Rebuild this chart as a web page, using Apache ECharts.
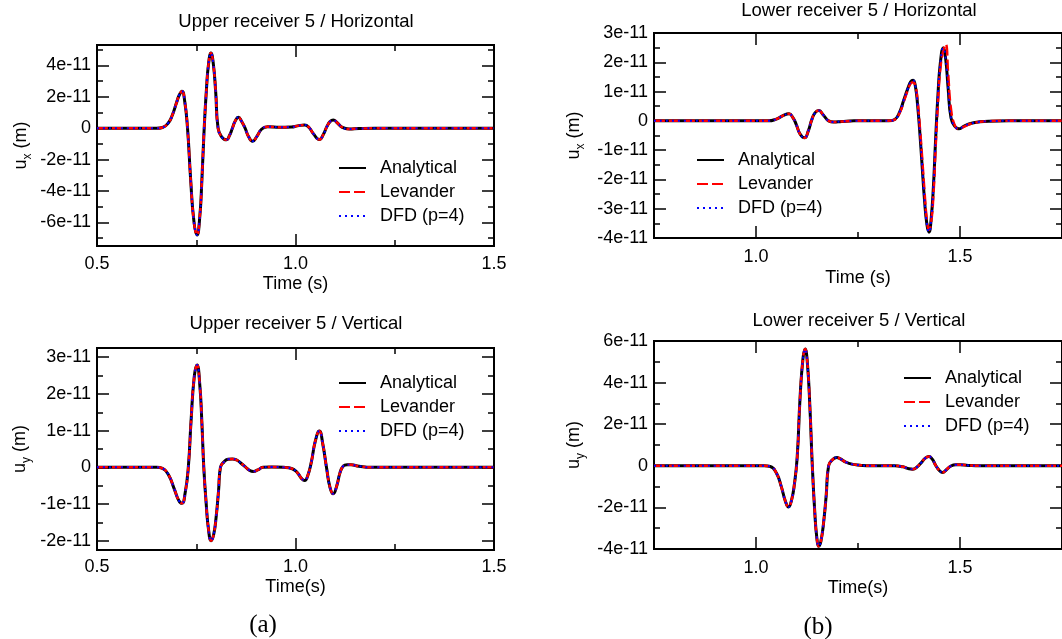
<!DOCTYPE html>
<html>
<head>
<meta charset="utf-8">
<script src="https://cdn.jsdelivr.net/npm/echarts@6/dist/echarts.min.js"></script>
<style>
html, body { margin: 0; padding: 0; background: #ffffff; }
#chart { width: 1062px; height: 639px; }
</style>
</head>
<body>
<div id="chart"></div>
<script>
// Displacement traces recorded at receiver 5; amplitudes are in units of 1e-11 m.
const AMP_UNIT = 1e-11;

// Upper receiver 5, horizontal component
const timeUpperH = [0.50, 0.60, 0.65, 0.665, 0.68, 0.69, 0.70, 0.707, 0.714, 0.721,
  0.728, 0.736, 0.744, 0.752, 0.759, 0.764, 0.770, 0.776, 0.781, 0.787,
  0.793, 0.799, 0.805, 0.814, 0.826, 0.834, 0.841, 0.848, 0.856, 0.864,
  0.873, 0.882, 0.892, 0.902, 0.915, 0.93, 0.96, 0.99, 1.005, 1.023,
  1.034, 1.045, 1.06, 1.071, 1.079, 1.087, 1.095, 1.105, 1.118, 1.135,
  1.16, 1.20, 1.30, 1.50];
const ampUpperH = [0, 0, 0, 0.05, 0.35, 0.85, 1.6, 2.1, 2.36, 1.7,
  0.0, -3.3, -5.9, -6.8, -5.6, -3.4, 0.0, 2.6, 4.1, 4.79,
  4.1, 2.3, 0.0, -0.55, -0.74, -0.45, 0.0, 0.45, 0.70, 0.45,
  0.0, -0.55, -0.83, -0.55, -0.05, 0.1, 0.06, 0.08, 0.15, 0.21,
  0.05, -0.35, -0.72, -0.35, 0.1, 0.42, 0.53, 0.35, 0.05, -0.05,
  -0.02, 0, 0, 0];

// Upper receiver 5, vertical component
const timeUpperV = [0.50, 0.60, 0.65, 0.665, 0.68, 0.695, 0.706, 0.714, 0.722, 0.730,
  0.737, 0.745, 0.752, 0.759, 0.764, 0.769, 0.775, 0.781, 0.7875, 0.794,
  0.800, 0.806, 0.811, 0.820, 0.830, 0.841, 0.852, 0.862, 0.875, 0.884,
  0.894, 0.905, 0.918, 0.94, 0.97, 0.99, 1.005, 1.015, 1.023, 1.031,
  1.040, 1.050, 1.060, 1.069, 1.078, 1.087, 1.095, 1.104, 1.112, 1.120,
  1.130, 1.140, 1.160, 1.190, 1.30, 1.50];
const ampUpperV = [0, 0, 0, -0.03, -0.2, -0.6, -0.9, -0.98, -0.7, 0.0,
  1.28, 2.47, 2.79, 2.23, 1.26, 0.0, -0.98, -1.7, -2.0, -1.82,
  -1.36, -0.66, 0.0, 0.15, 0.22, 0.23, 0.2, 0.12, 0.0, -0.08,
  -0.11, -0.07, 0.0, 0.01, 0.0, -0.03, -0.15, -0.3, -0.36, -0.22,
  0.15, 0.72, 0.99, 0.62, 0.0, -0.55, -0.72, -0.5, -0.15, 0.03,
  0.07, 0.07, 0.03, 0.0, 0, 0];

// Lower receiver 5, horizontal component
const timeLowerH = [0.75, 0.90, 1.00, 1.03, 1.05, 1.065, 1.081, 1.090, 1.098, 1.108,
  1.119, 1.128, 1.137, 1.145, 1.154, 1.165, 1.178, 1.190, 1.21, 1.24,
  1.30, 1.325, 1.340, 1.352, 1.362, 1.372, 1.379, 1.385, 1.391, 1.396,
  1.401, 1.407, 1.413, 1.419, 1.424, 1.429, 1.435, 1.440, 1.446, 1.452,
  1.459, 1.465, 1.471, 1.478, 1.488, 1.497, 1.51, 1.526, 1.545, 1.57,
  1.62, 1.75];
const ampLowerH = [0, 0, 0, 0, 0.06, 0.17, 0.24, 0.12, -0.1, -0.45,
  -0.58, -0.35, 0.05, 0.28, 0.35, 0.2, 0.0, -0.04, -0.02, 0,
  0, 0.0, 0.05, 0.3, 0.7, 1.1, 1.33, 1.39, 1.15, 0.55,
  -0.3, -1.5, -2.7, -3.55, -3.8, -3.4, -2.2, -0.7, 0.9, 2.0,
  2.49, 2.1, 1.1, 0.1, -0.2, -0.27, -0.18, -0.09, -0.04, -0.01,
  0, 0];
const ampLowerHLevander = [0, 0, 0, 0, 0.06, 0.17, 0.24, 0.12, -0.1, -0.45,
  -0.58, -0.35, 0.05, 0.28, 0.35, 0.2, 0.0, -0.04, -0.02, 0,
  0, 0.0, 0.04, 0.27, 0.65, 1.05, 1.27, 1.32, 1.18, 0.7,
  -0.1, -1.2, -2.4, -3.4, -3.72, -3.5, -2.5, -1.0, 0.6, 1.8,
  2.4, 2.62, 1.6, 0.4, -0.18, -0.28, -0.2, -0.1, -0.04, -0.01,
  0, 0];

// Lower receiver 5, vertical component
const timeLowerV = [0.75, 0.95, 1.02, 1.035, 1.05, 1.062, 1.072, 1.0797, 1.087, 1.094,
  1.101, 1.108, 1.115, 1.1204, 1.126, 1.132, 1.138, 1.144, 1.149, 1.1537,
  1.159, 1.166, 1.172, 1.178, 1.188, 1.198, 1.207, 1.220, 1.235, 1.255,
  1.28, 1.34, 1.36, 1.375, 1.3845, 1.395, 1.405, 1.415, 1.4236, 1.432,
  1.441, 1.450, 1.4576, 1.466, 1.477, 1.49, 1.50, 1.52, 1.55, 1.75];
const ampLowerV = [0, 0, 0, -0.03, -0.35, -1.0, -1.7, -1.98, -1.66, -0.9,
  0.43, 3.27, 5.13, 5.61, 4.93, 2.87, 0.0, -2.2, -3.45, -3.87,
  -3.64, -2.67, -1.43, 0.0, 0.3, 0.40, 0.33, 0.18, 0.08, 0.03,
  0, 0, -0.05, -0.14, -0.16, -0.05, 0.15, 0.37, 0.45, 0.32,
  0.0, -0.24, -0.32, -0.2, -0.02, 0.05, 0.05, 0.02, 0, 0];

// Tick values (time in s, amplitude in 1e-11 m)
const xMajorUpper = [0.5, 1.0, 1.5];
const xMinorUpper = [0.75, 1.25];
const xMajorLower = [1.0, 1.5];
const xMinorLower = [0.75, 1.25, 1.75];
const yMajorUpperH = [-6, -4, -2, 0, 2, 4];
const yMinorUpperH = [-7, -5, -3, -1, 1, 3, 5];
const yMajorUpperV = [-2, -1, 0, 1, 2, 3];
const yMinorUpperV = [-1.5, -0.5, 0.5, 1.5, 2.5];
const yMajorLowerH = [-4, -3, -2, -1, 0, 1, 2, 3];
const yMinorLowerH = [-3.5, -2.5, -1.5, -0.5, 0.5, 1.5, 2.5];
const yMajorLowerV = [-4, -2, 0, 2, 4, 6];
const yMinorLowerV = [-3, -1, 1, 3, 5];

const seriesNames = ['Analytical', 'Levander', 'DFD (p=4)'];

const FONT = '"Liberation Sans", Arial, Helvetica, sans-serif';

const panels = [
  {
    title: 'Upper receiver 5 / Horizontal', titleAt: [296, 22], comp: 'x', xName: 'Time (s)',
    grid: { left: 97, top: 45, width: 397, height: 201 },
    xRange: [0.5, 1.5], xMajor: xMajorUpper, xMinor: xMinorUpper,
    yRange: [-7.5, 5.3], yMajor: yMajorUpperH, yMinor: yMinorUpperH,
    labelMargin: 9, xNameGap: 29, yNameGap: 63,
    time: timeUpperH, traces: [ampUpperH, ampUpperH, ampUpperH],
    legendAt: [338, 158]
  },
  {
    title: 'Lower receiver 5 / Horizontal', titleAt: [859, 11], comp: 'x', xName: 'Time (s)',
    grid: { left: 654, top: 33, width: 409, height: 205 },
    xRange: [0.75, 1.75], xMajor: xMajorLower, xMinor: xMinorLower,
    yRange: [-4, 3], yMajor: yMajorLowerH, yMinor: yMinorLowerH,
    labelMargin: 10, xNameGap: 31, yNameGap: 67,
    time: timeLowerH, traces: [ampLowerH, ampLowerHLevander, ampLowerH],
    legendAt: [696, 150]
  },
  {
    title: 'Upper receiver 5 / Vertical', titleAt: [296, 324], comp: 'y', xName: 'Time(s)',
    grid: { left: 97, top: 348, width: 397, height: 202 },
    xRange: [0.5, 1.5], xMajor: xMajorUpper, xMinor: xMinorUpper,
    yRange: [-2.25, 3.25], yMajor: yMajorUpperV, yMinor: yMinorUpperV,
    labelMargin: 8, xNameGap: 28, yNameGap: 64,
    time: timeUpperV, traces: [ampUpperV, ampUpperV, ampUpperV],
    legendAt: [338, 373]
  },
  {
    title: 'Lower receiver 5 / Vertical', titleAt: [859, 321], comp: 'y', xName: 'Time(s)',
    grid: { left: 654, top: 341, width: 409, height: 208 },
    xRange: [0.75, 1.75], xMajor: xMajorLower, xMinor: xMinorLower,
    yRange: [-4, 6], yMajor: yMajorLowerV, yMinor: yMinorLowerV,
    labelMargin: 10, xNameGap: 30, yNameGap: 67,
    time: timeLowerV, traces: [ampLowerV, ampLowerV, ampLowerV],
    legendAt: [903, 368]
  }
];

const traceStyles = [
  { color: '#000000', width: 3, type: 'solid' },
  { color: '#ff0000', width: 2.5, type: [11, 4] },
  { color: '#0000ff', width: 2, type: [2, 4] }
];

const tickLine = { color: '#000000', width: 1.5 };
const toMetres = arr => arr.map(v => v * AMP_UNIT);

function valueAxis(gridIndex, position, range, ticks, len, extra) {
  return Object.assign({
    type: 'value', gridIndex, position, min: range[0], max: range[1],
    axisLine: { show: false, onZero: false },
    splitLine: { show: false },
    axisTick: { show: true, inside: true, length: len, customValues: ticks, lineStyle: tickLine },
    axisLabel: { show: false },
    silent: true
  }, extra || {});
}

const grids = [], xAxes = [], yAxes = [], series = [], legends = [], texts = [];

panels.forEach((p, i) => {
  grids.push(Object.assign({ show: true, borderColor: '#000000', borderWidth: 2, backgroundColor: 'transparent', containLabel: false }, p.grid));

  const xLabelStyle = {
    show: true, customValues: p.xMajor, margin: p.labelMargin, color: '#000', fontSize: 18, fontFamily: FONT,
    formatter: v => v.toFixed(1)
  };
  xAxes.push(valueAxis(i, 'bottom', p.xRange, p.xMajor, 12, {
    axisLabel: xLabelStyle,
    name: p.xName, nameLocation: 'middle', nameGap: p.xNameGap,
    nameTextStyle: { color: '#000', fontSize: 18, fontFamily: FONT }
  }));
  xAxes.push(valueAxis(i, 'bottom', p.xRange, p.xMinor, 6));
  xAxes.push(valueAxis(i, 'top', p.xRange, p.xMajor, 12));
  xAxes.push(valueAxis(i, 'top', p.xRange, p.xMinor, 6));

  const yRange = toMetres(p.yRange);
  const yMajor = toMetres(p.yMajor);
  const yMinor = toMetres(p.yMinor);
  yAxes.push(valueAxis(i, 'left', yRange, yMajor, 12, {
    axisLabel: {
      show: true, customValues: yMajor, margin: 6, color: '#000', fontSize: 18, fontFamily: FONT,
      formatter: v => {
        const n = Math.round(v / AMP_UNIT);
        return n === 0 ? '0' : n + 'e-11';
      }
    },
    name: '{u|u}{s|' + p.comp + '}{u| (m)}', nameLocation: 'middle', nameGap: p.yNameGap,
    nameTextStyle: {
      color: '#000', fontFamily: FONT,
      rich: {
        u: { fontSize: 18, lineHeight: 26, fontFamily: FONT, color: '#000' },
        s: { fontSize: 12, lineHeight: 12, verticalAlign: 'bottom', fontFamily: FONT, color: '#000' }
      }
    }
  }));
  yAxes.push(valueAxis(i, 'left', yRange, yMinor, 6));
  yAxes.push(valueAxis(i, 'right', yRange, yMajor, 12));
  yAxes.push(valueAxis(i, 'right', yRange, yMinor, 6));

  seriesNames.forEach((name, k) => {
    const st = traceStyles[k];
    const amps = p.traces[k];
    series.push({
      type: 'line', name,
      xAxisIndex: 4 * i, yAxisIndex: 4 * i,
      data: p.time.map((t, j) => [t, amps[j] * AMP_UNIT]),
      symbol: 'none', showSymbol: false, smooth: 0.5,
      lineStyle: { color: st.color, width: st.width, type: st.type },
      itemStyle: { color: st.color },
      z: 2 + k, silent: true
    });
  });

  // Legend keys show the line style only (no marker)
  legends.push({
    orient: 'vertical', left: p.legendAt[0], top: p.legendAt[1], padding: 0,
    data: seriesNames, itemWidth: 27, itemHeight: 14, itemGap: 4,
    selectedMode: false,
    itemStyle: { opacity: 0, borderWidth: 0 },
    textStyle: { color: '#000', fontSize: 18, fontFamily: FONT, lineHeight: 20, padding: [0, 0, 0, 9] }
  });

  texts.push({
    type: 'text', x: p.titleAt[0], y: p.titleAt[1], silent: true,
    style: { text: p.title, fill: '#000', font: '18.5px ' + FONT, textAlign: 'center', textVerticalAlign: 'middle' }
  });
});

// Sub-figure captions
texts.push({
  type: 'text', x: 263, y: 625, silent: true,
  style: { text: '(a)', fill: '#000', font: '25px "Liberation Serif", "DejaVu Serif", serif', textAlign: 'center', textVerticalAlign: 'middle' }
});
texts.push({
  type: 'text', x: 818, y: 627, silent: true,
  style: { text: '(b)', fill: '#000', font: '25px "Liberation Serif", "DejaVu Serif", serif', textAlign: 'center', textVerticalAlign: 'middle' }
});

const chart = echarts.init(document.getElementById('chart'), null, { renderer: 'canvas' });
chart.setOption({
  animation: false,
  backgroundColor: '#ffffff',
  grid: grids,
  xAxis: xAxes,
  yAxis: yAxes,
  legend: legends,
  series: series,
  graphic: { elements: texts }
});
</script>
</body>
</html>
